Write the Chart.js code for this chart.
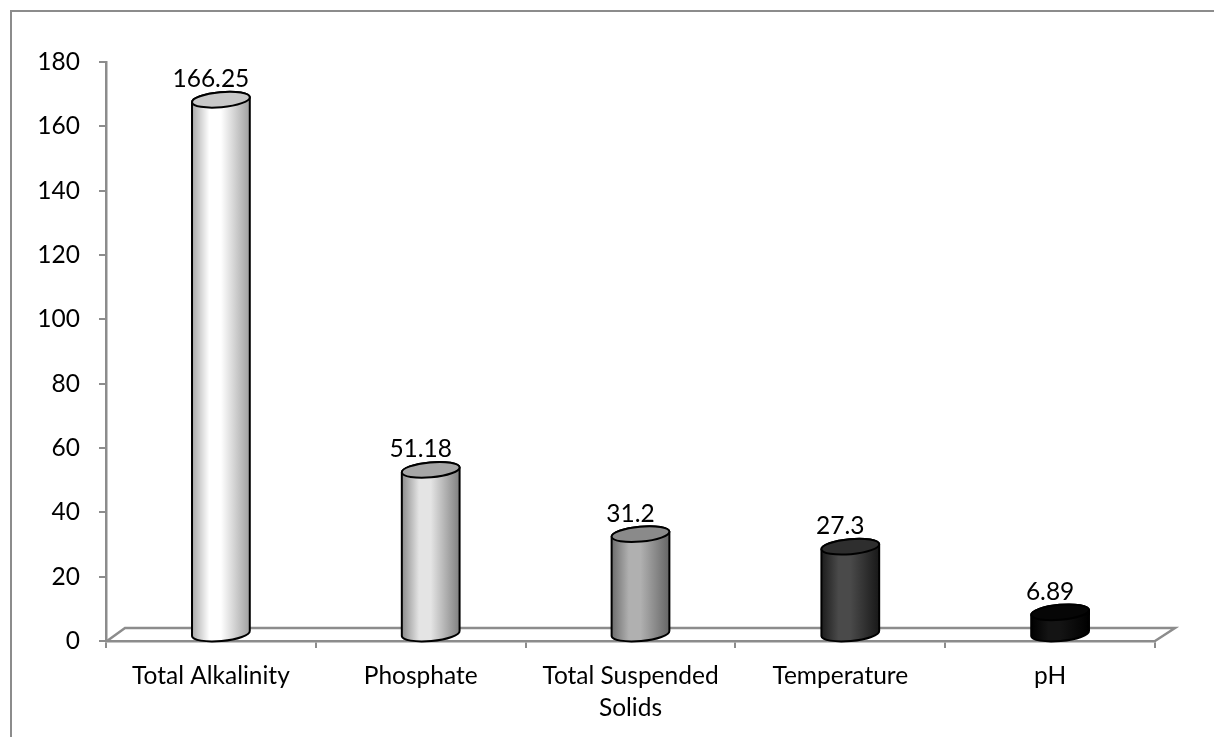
<!DOCTYPE html>
<html>
<head>
<meta charset="utf-8">
<script src="https://cdn.jsdelivr.net/npm/chart.js@4.4.0/dist/chart.umd.min.js"></script>
<style>
  html, body { margin: 0; padding: 0; background: #fff; }
  #wrap { position: relative; width: 1214px; height: 737px; }
  #frame { position: absolute; left: 10px; top: 10px; width: 1220px; height: 740px;
           border-left: 2px solid #8c8c8c; border-top: 2px solid #8c8c8c; }
  canvas { position: absolute; left: 0; top: 0; }
</style>
</head>
<body>
<div id="wrap">
  <div id="frame"></div>
  <canvas id="chart" width="1214" height="737"></canvas>
</div>
<script>
const categories = ['Total Alkalinity', 'Phosphate', ['Total Suspended', 'Solids'], 'Temperature', 'pH'];
const values = [166.25, 51.18, 31.2, 27.3, 6.89];
const valueLabels = ['166.25', '51.18', '31.2', '27.3', '6.89'];
const yTicks = [0, 20, 40, 60, 80, 100, 120, 140, 160, 180];

// shading per cylinder: [left edge, highlight, right edge, top ellipse]
const shades = [
    ['#a8a8a8', '#ffffff', '#a0a0a0', '#c8c8c8'],
    ['#8a8a8a', '#e4e4e4', '#808080', '#a6a6a6'],
    ['#6c6c6c', '#b0b0b0', '#666666', '#8a8a8a'],
    ['#1c1c1c', '#4a4a4a', '#181818', '#2e2e2e'],
    ['#000000', '#141414', '#000000', '#060606']
];

const FONT = 'Lato';
const FSIZE = 24.5;
const axisGrey = '#8c8c8c';

// floor + cylinders, drawn with the bar elements' positions
const cylinders = {
    id: 'cylinders',
    beforeDatasetsDraw(chart) {
        const {ctx, chartArea} = chart;
        const y0 = chart.scales.y.getPixelForValue(0);
        ctx.save();
        ctx.strokeStyle = axisGrey;
        ctx.lineWidth = 2.5;
        ctx.beginPath();
        ctx.moveTo(chartArea.left + 1, y0);
        ctx.lineTo(chartArea.left + 19, y0 - 13);
        ctx.lineTo(chartArea.right + 20, y0 - 13);
        ctx.lineTo(chartArea.right, y0);
        ctx.stroke();
        ctx.restore();
    },
    afterDatasetsDraw(chart) {
        const {ctx} = chart;
        const meta = chart.getDatasetMeta(0);
        const rx = 29, ry = 7.5, rot = -0.09;
        meta.data.forEach((bar, i) => {
            const cx = bar.x + 10;
            const topY = bar.y - 6.5;
            const botY = bar.base - 6.5;
            const s = shades[i];
            const g = ctx.createLinearGradient(cx - rx, 0, cx + rx, 0);
            g.addColorStop(0, s[0]);
            g.addColorStop(0.3, s[1]);
            g.addColorStop(0.5, s[1]);
            g.addColorStop(1, s[2]);
            ctx.save();
            ctx.lineWidth = 2;
            ctx.strokeStyle = '#000';
            ctx.beginPath();
            ctx.ellipse(cx, botY, rx, ry, rot, 0, Math.PI);
            ctx.ellipse(cx, topY, rx, ry, rot, Math.PI, 2 * Math.PI);
            ctx.closePath();
            ctx.fillStyle = g;
            ctx.fill();
            ctx.stroke();
            ctx.beginPath();
            ctx.ellipse(cx, topY, rx, ry, rot, 0, 2 * Math.PI);
            ctx.fillStyle = s[3];
            ctx.fill();
            ctx.stroke();
            // value label
            ctx.fillStyle = '#000';
            ctx.font = FSIZE + 'px ' + FONT;
            ctx.textAlign = 'center';
            ctx.textBaseline = 'middle';
            ctx.fillText(valueLabels[i], bar.x, bar.y - 27);
            ctx.restore();
        });
    }
};

new Chart(document.getElementById('chart').getContext('2d'), {
    type: 'bar',
    data: {
        labels: categories,
        datasets: [{
            data: values,
            backgroundColor: 'rgba(0,0,0,0)',
            borderWidth: 0,
            barPercentage: 0.55,
            categoryPercentage: 1
        }]
    },
    options: {
        responsive: false,
        animation: false,
        layout: { padding: { top: 62, right: 59, left: 0, bottom: 0 } },
        plugins: { legend: { display: false }, tooltip: { enabled: false } },
        scales: {
            x: {
                offset: true,
                grid: { offset: true, drawOnChartArea: false, drawTicks: true, tickLength: 7, color: axisGrey, lineWidth: 2 },
                border: { display: true, color: axisGrey, width: 2.5 },
                ticks: { color: '#000', padding: 12, maxRotation: 0, font: { family: FONT, size: FSIZE, lineHeight: 1.3 } },
                afterFit(scale) { scale.height = 96; }
            },
            y: {
                min: 0,
                max: 180,
                afterBuildTicks(scale) { scale.ticks = yTicks.map(v => ({value: v})); },
                grid: { drawOnChartArea: false, drawTicks: true, tickLength: 7, color: axisGrey, lineWidth: 2 },
                border: { display: true, color: axisGrey, width: 2.5 },
                ticks: { color: '#000', padding: 19, font: { family: FONT, size: FSIZE } },
                afterFit(scale) { scale.width = 106; }
            }
        }
    },
    plugins: [cylinders]
});
</script>
</body>
</html>
